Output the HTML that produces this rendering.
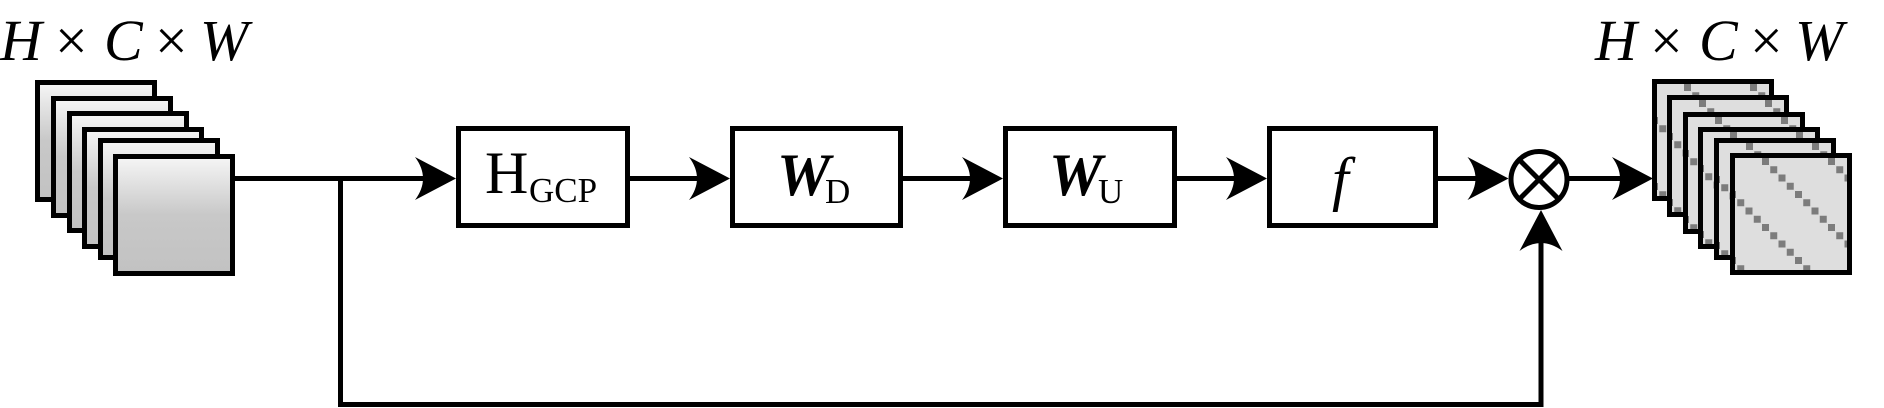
<!DOCTYPE html>
<html>
<head>
<meta charset="utf-8">
<style>
  html,body{margin:0;padding:0;background:#fff;}
  svg{display:block;}
  text{font-family:"Liberation Serif", serif;fill:#000;}
</style>
</head>
<body>
<svg width="1884" height="408" viewBox="0 0 1884 408" xmlns="http://www.w3.org/2000/svg">
  <defs>
    <linearGradient id="g" x1="0" y1="0" x2="0" y2="1">
      <stop offset="0" stop-color="#f6f6f6"/>
      <stop offset="0.5" stop-color="#c8c8c8"/>
      <stop offset="1" stop-color="#c2c2c2"/>
    </linearGradient>
    <pattern id="d" patternUnits="userSpaceOnUse" x="0" y="5" width="66" height="66">
      <g fill="#7c7c7c">
        <rect x="32" y="0" width="7" height="7"/>
        <rect x="40.25" y="8.25" width="7" height="7"/>
        <rect x="48.5" y="16.5" width="7" height="7"/>
        <rect x="56.75" y="24.75" width="7" height="7"/>
        <rect x="65" y="33" width="7" height="7"/>
        <rect x="-1" y="33" width="7" height="7"/>
        <rect x="7.25" y="41.25" width="7" height="7"/>
        <rect x="15.5" y="49.5" width="7" height="7"/>
        <rect x="23.75" y="57.75" width="7" height="7"/>
      </g>
    </pattern>
  </defs>

  <!-- Top labels -->
  <g font-style="italic" font-size="58">
    <text x="0" y="60">H</text>
    <text x="55" y="60" font-style="normal">×</text>
    <text x="104" y="60">C</text>
    <text x="155" y="60" font-style="normal">×</text>
    <text x="200" y="60">W</text>
  </g>
  <g font-style="italic" font-size="58">
    <text x="1595" y="60">H</text>
    <text x="1650" y="60" font-style="normal">×</text>
    <text x="1699" y="60">C</text>
    <text x="1750" y="60" font-style="normal">×</text>
    <text x="1795" y="60">W</text>
  </g>

  <!-- Left stack -->
  <g stroke="#000" stroke-width="5" fill="url(#g)">
    <rect x="37.5" y="82.5" width="117" height="117"/>
    <rect x="53.5" y="98.5" width="117" height="117"/>
    <rect x="69.5" y="113.5" width="117" height="117"/>
    <rect x="84.5" y="129.5" width="117" height="117"/>
    <rect x="100.5" y="140.5" width="117" height="117"/>
    <rect x="115.5" y="156.5" width="117" height="117"/>
  </g>

  <!-- Right stack -->
  <g transform="translate(1652,79)"><rect x="2.5" y="2.5" width="117" height="117" fill="#dedede"/><rect x="2.5" y="2.5" width="117" height="117" fill="url(#d)" stroke="#000" stroke-width="5"/></g>
  <g transform="translate(1667,95)"><rect x="2.5" y="2.5" width="117" height="117" fill="#dedede"/><rect x="2.5" y="2.5" width="117" height="117" fill="url(#d)" stroke="#000" stroke-width="5"/></g>
  <g transform="translate(1683,112)"><rect x="2.5" y="2.5" width="117" height="117" fill="#dedede"/><rect x="2.5" y="2.5" width="117" height="117" fill="url(#d)" stroke="#000" stroke-width="5"/></g>
  <g transform="translate(1698,127)"><rect x="2.5" y="2.5" width="117" height="117" fill="#dedede"/><rect x="2.5" y="2.5" width="117" height="117" fill="url(#d)" stroke="#000" stroke-width="5"/></g>
  <g transform="translate(1714,138)"><rect x="2.5" y="2.5" width="117" height="117" fill="#dedede"/><rect x="2.5" y="2.5" width="117" height="117" fill="url(#d)" stroke="#000" stroke-width="5"/></g>
  <g transform="translate(1730,153)"><rect x="2.5" y="2.5" width="117" height="117" fill="#dedede"/><rect x="2.5" y="2.5" width="117" height="117" fill="url(#d)" stroke="#000" stroke-width="5"/></g>

  <!-- Connector lines -->
  <g stroke="#000" stroke-width="5" fill="none">
    <line x1="233" y1="178.5" x2="440" y2="178.5"/>
    <line x1="628" y1="178.5" x2="715" y2="178.5"/>
    <line x1="901" y1="178.5" x2="990" y2="178.5"/>
    <line x1="1175" y1="178.5" x2="1252" y2="178.5"/>
    <line x1="1436" y1="178.5" x2="1495" y2="178.5"/>
    <line x1="1567" y1="178.5" x2="1640" y2="178.5"/>
    <polyline points="340.5,178.5 340.5,404.5 1541,404.5 1541,240" stroke-linejoin="miter"/>
  </g>

  <!-- Boxes -->
  <g stroke="#000" stroke-width="5" fill="#fff">
    <rect x="458.5" y="128.5" width="169" height="97"/>
    <rect x="732.5" y="128.5" width="168" height="97"/>
    <rect x="1005.5" y="128.5" width="169" height="97"/>
    <rect x="1269.5" y="128.5" width="166" height="97"/>
  </g>

  <!-- Box labels -->
  <text x="485" y="193" font-size="60">H</text>
  <text x="529" y="202" font-size="35">GCP</text>

  <text x="777" y="195" font-size="60" font-weight="bold" font-style="italic">W</text>
  <text x="825" y="203" font-size="35">D</text>

  <text x="1049" y="195" font-size="60" font-weight="bold" font-style="italic">W</text>
  <text x="1098" y="203" font-size="35">U</text>

  <text x="1332" y="199" font-size="60" font-style="italic">f</text>

  <!-- Multiply circle -->
  <g stroke="#000" stroke-width="5" fill="none">
    <circle cx="1539" cy="179.5" r="28"/>
    <line x1="1519.2" y1="159.7" x2="1558.8" y2="199.3"/>
    <line x1="1558.8" y1="159.7" x2="1519.2" y2="199.3"/>
  </g>

  <!-- Arrowheads -->
  <g fill="#000">
    <path d="M456,178.5 L415,157 Q431,178.5 415,200 Z"/>
    <path d="M730,178.5 L689,157 Q705,178.5 689,200 Z"/>
    <path d="M1003,178.5 L962,157 Q978,178.5 962,200 Z"/>
    <path d="M1267,178.5 L1226,157 Q1242,178.5 1226,200 Z"/>
    <path d="M1508.5,178.5 L1467.5,157 Q1483.5,178.5 1467.5,200 Z"/>
    <path d="M1653,178.5 L1612,157 Q1628,178.5 1612,200 Z"/>
    <path d="M1541,210 L1519.5,251 Q1541,235 1562.5,251 Z"/>
  </g>
</svg>
</body>
</html>
